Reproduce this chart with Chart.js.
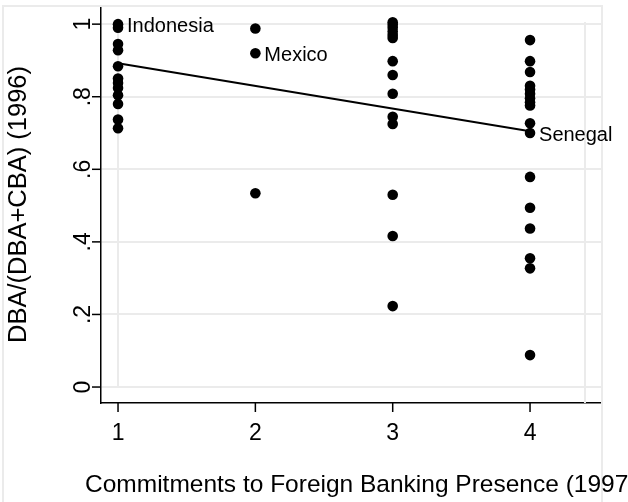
<!DOCTYPE html>
<html>
<head>
<meta charset="utf-8">
<script src="https://cdn.jsdelivr.net/npm/chart.js@4.4.1/dist/chart.umd.min.js"></script>
<style>
  html, body { margin: 0; padding: 0; background: #fff; }
  canvas { display: block; }
</style>
</head>
<body>
<canvas id="foreignChart" width="628" height="502"></canvas>
<script>
// commitment level (x) and DBA share values
const levels = [1, 2, 3, 4];
const shareLevel1 = [1.0, 0.99, 0.945, 0.928, 0.884, 0.85, 0.838, 0.824, 0.804, 0.78, 0.737, 0.713];
const shareLevel2 = [0.988, 0.92, 0.534];
const shareLevel3 = [1.005, 0.998, 0.99, 0.98, 0.97, 0.962, 0.898, 0.86, 0.808, 0.745, 0.725, 0.53, 0.416, 0.223];
const shareLevel4 = [0.956, 0.898, 0.868, 0.83, 0.82, 0.808, 0.796, 0.785, 0.776, 0.727, 0.70, 0.579, 0.494, 0.437, 0.355, 0.327, 0.088];

// fitted line end points
const fitX = [1, 4];
const fitY = [0.892, 0.705];

// labelled countries
const labelNames = ["Indonesia", "Mexico", "Senegal"];
const labelX = [1, 2, 4];
const labelY = [1.0, 0.92, 0.70];

const xTicks = [1, 2, 3, 4];
const yTicks = [0, 0.2, 0.4, 0.6, 0.8, 1];
const yTickLabels = ["0", ".2", ".4", ".6", ".8", "1"];

const xTitle = "Commitments to Foreign Banking Presence (1997)";
const yTitle = "DBA/(DBA+CBA) (1996)";

const FONT = "'Liberation Sans', Arial, sans-serif";

const shares = [shareLevel1, shareLevel2, shareLevel3, shareLevel4];
const points = [];
shares.forEach((vals, i) => {
  vals.forEach(v => points.push({ x: levels[i], y: v }));
});

const decorPlugin = {
  id: "decor",
  beforeDatasetsDraw(chart) {
    const ctx = chart.ctx;
    const xs = chart.scales.x;
    const ys = chart.scales.y;
    const area = chart.chartArea;
    ctx.save();
    ctx.strokeStyle = "#ebebeb";
    ctx.lineWidth = 2;
    // outer frame
    ctx.beginPath();
    ctx.moveTo(3, 502);
    ctx.lineTo(3, area.top);
    ctx.lineTo(area.right, area.top);
    ctx.lineTo(area.right, 502);
    ctx.stroke();
    // inner plot box
    const bx1 = xs.getPixelForValue(1);
    const bx2 = xs.getPixelForValue(4.4);
    const by1 = ys.getPixelForValue(1);
    const by0 = ys.getPixelForValue(0);
    ctx.beginPath();
    ctx.moveTo(bx1, by0);
    ctx.lineTo(bx1, by1);
    ctx.moveTo(bx2, area.top + 16);
    ctx.lineTo(bx2, area.bottom);
    ctx.stroke();
    ctx.restore();
  },
  afterDraw(chart) {
    const ctx = chart.ctx;
    const xs = chart.scales.x;
    const ys = chart.scales.y;
    const area = chart.chartArea;
    ctx.save();
    ctx.strokeStyle = "#000";
    ctx.fillStyle = "#000";
    ctx.lineWidth = 1.5;

    // y ticks and rotated labels
    ctx.font = "23px " + FONT;
    yTicks.forEach((v, i) => {
      const py = ys.getPixelForValue(v);
      ctx.beginPath();
      ctx.moveTo(area.left - 9, py);
      ctx.lineTo(area.left, py);
      ctx.stroke();
      ctx.save();
      ctx.translate(84, py);
      ctx.rotate(-Math.PI / 2);
      ctx.textAlign = "center";
      ctx.textBaseline = "middle";
      ctx.fillText(yTickLabels[i], 0, 0);
      ctx.restore();
    });

    // x ticks and labels
    xTicks.forEach(v => {
      const px = xs.getPixelForValue(v);
      ctx.beginPath();
      ctx.moveTo(px, area.bottom);
      ctx.lineTo(px, area.bottom + 9);
      ctx.stroke();
      ctx.textAlign = "center";
      ctx.textBaseline = "middle";
      ctx.fillText(String(v), px, 434);
    });

    // axis titles
    ctx.font = "24.5px " + FONT;
    ctx.textAlign = "left";
    ctx.textBaseline = "middle";
    ctx.fillText(xTitle, 85, 485);
    ctx.font = "25.5px " + FONT;
    ctx.save();
    ctx.translate(19, (area.top + area.bottom) / 2);
    ctx.rotate(-Math.PI / 2);
    ctx.textAlign = "center";
    ctx.fillText(yTitle, 0, 0);
    ctx.restore();

    // marker labels
    ctx.font = "20px " + FONT;
    ctx.textAlign = "left";
    ctx.textBaseline = "middle";
    labelNames.forEach((name, i) => {
      const px = xs.getPixelForValue(labelX[i]);
      const py = ys.getPixelForValue(labelY[i]);
      ctx.fillText(name, px + 9, py + 2);
    });
    ctx.restore();
  }
};

new Chart(document.getElementById("foreignChart"), {
  type: "scatter",
  data: {
    datasets: [
      {
        type: "line",
        data: fitX.map((x, i) => ({ x: x, y: fitY[i] })),
        borderColor: "#000",
        borderWidth: 2,
        pointRadius: 0,
        fill: false,
        order: 0
      },
      {
        data: points,
        backgroundColor: "#000",
        borderColor: "#000",
        pointRadius: 5.3,
        borderWidth: 0,
        order: 1
      }
    ]
  },
  options: {
    responsive: false,
    animation: false,
    devicePixelRatio: 1,
    layout: { padding: { left: 101, top: 6, right: 26, bottom: 99 } },
    plugins: {
      legend: { display: false },
      tooltip: { enabled: false }
    },
    scales: {
      x: {
        type: "linear",
        min: 0.876,
        max: 4.524,
        afterFit: s => { s.height = 0; },
        ticks: { display: false },
        grid: { display: false },
        border: { display: true, color: "#000", width: 1.5 }
      },
      y: {
        type: "linear",
        min: -0.044,
        max: 1.05,
        afterFit: s => { s.width = 0; },
        afterBuildTicks: s => { s.ticks = yTicks.map(v => ({ value: v })); },
        ticks: { display: false },
        grid: { color: "#ebebeb", lineWidth: 2, drawTicks: false },
        border: { display: true, color: "#000", width: 1.5 }
      }
    }
  },
  plugins: [decorPlugin]
});
</script>
</body>
</html>
